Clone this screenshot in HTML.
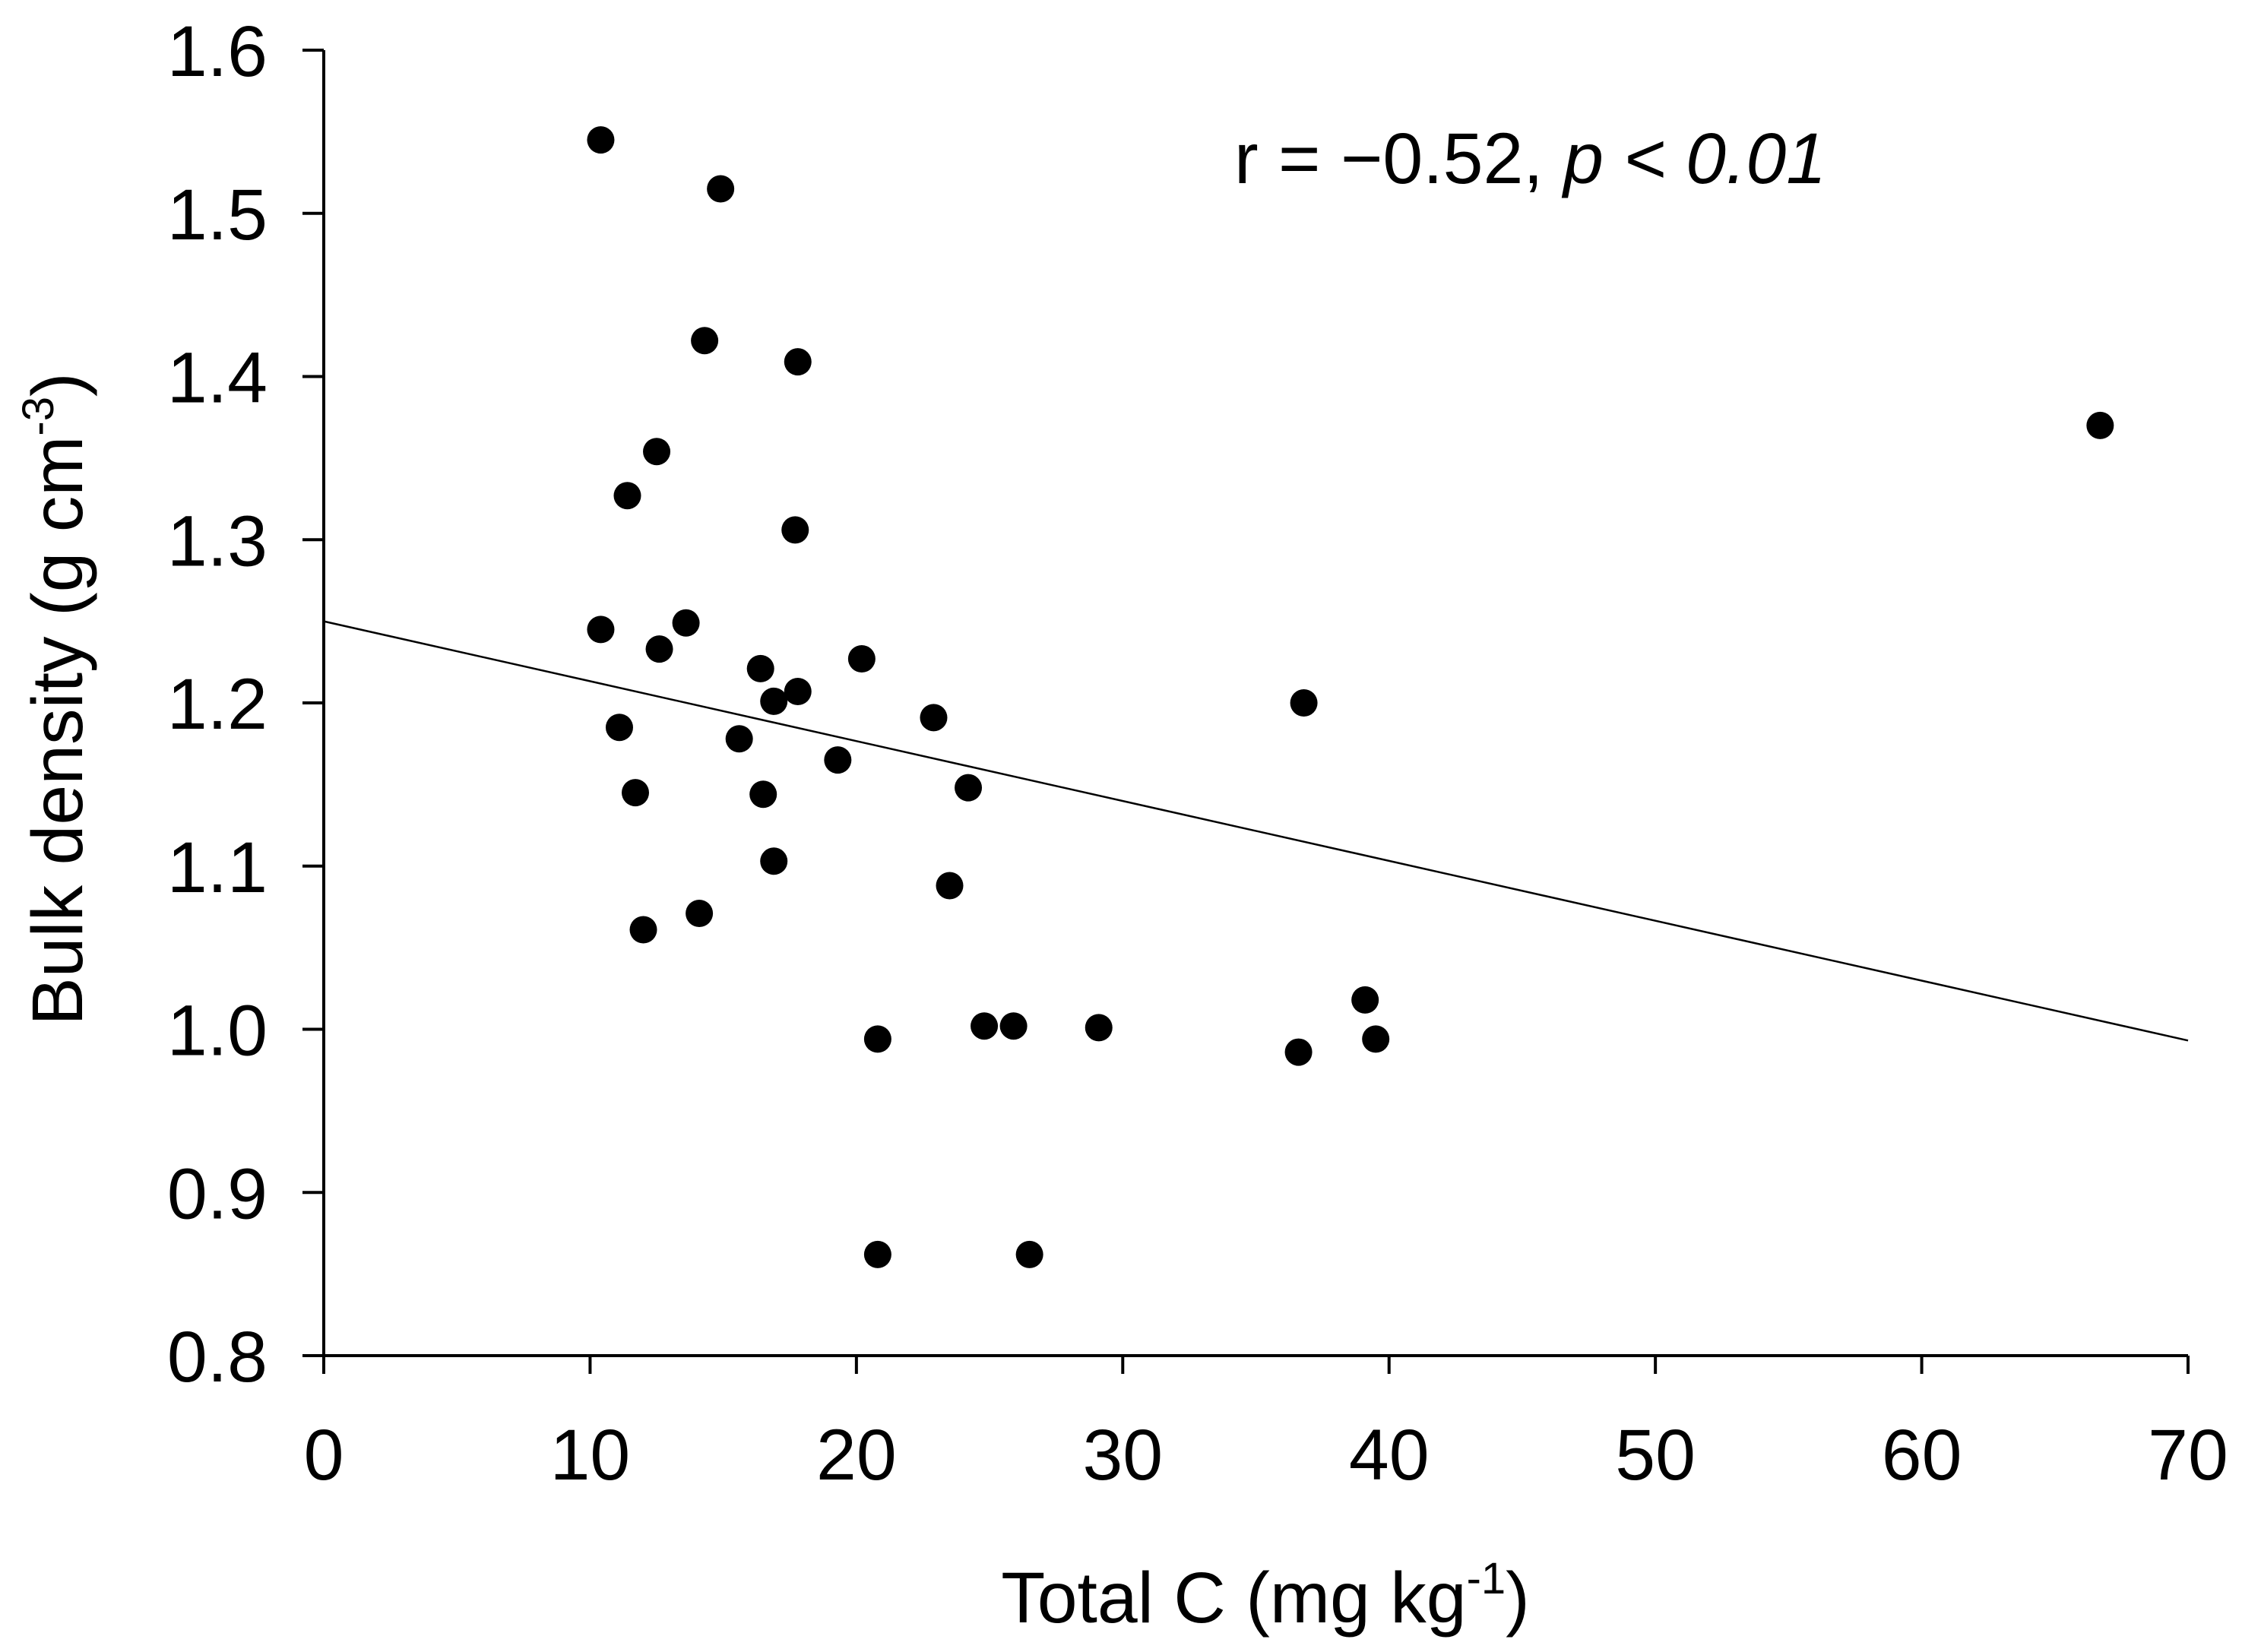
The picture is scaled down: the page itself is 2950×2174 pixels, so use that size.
<!DOCTYPE html>
<html><head><meta charset="utf-8"><style>
html,body{margin:0;padding:0;background:#fff;}
svg{display:block;}
text{font-family:"Liberation Sans",Arial,sans-serif;fill:#000;}
</style></head><body>
<svg id="chart" width="2950" height="2174" viewBox="0 0 2950 2174" xmlns="http://www.w3.org/2000/svg">
<g id="axes"></g>
<g id="marks"></g>
<text x="1665" y="2135" font-size="95" text-anchor="middle">Total C (mg kg<tspan dy="-38" font-size="58">-1</tspan><tspan dy="38">)</tspan></text>
<text transform="translate(108,920) rotate(-90)" font-size="95" text-anchor="middle">Bulk density (g cm<tspan dy="-38" font-size="58">-3</tspan><tspan dy="38">)</tspan></text>
<text x="1624" y="241" font-size="95">r = −0.52, <tspan font-style="italic">p &lt; 0.01</tspan></text>
</svg>
<script>
const xVals=[10.4,14.9,14.3,17.8,66.7,12.5,11.4,17.7,10.4,13.6,12.6,16.4,20.2,16.9,17.8,22.9,36.8,11.1,15.6,19.3,11.7,16.5,24.2,16.9,23.5,14.1,12.0,39.1,20.8,24.8,25.9,29.1,36.6,39.5,20.8,26.5];
const yVals=[1.545,1.515,1.422,1.409,1.370,1.354,1.327,1.306,1.245,1.249,1.233,1.221,1.227,1.201,1.207,1.191,1.200,1.185,1.178,1.165,1.145,1.144,1.148,1.103,1.088,1.071,1.061,1.018,0.994,1.002,1.002,1.001,0.986,0.994,0.862,0.862];
const xTicks=[0,10,20,30,40,50,60,70];
const yTicks=[0.8,0.9,1.0,1.1,1.2,1.3,1.4,1.5,1.6];
const trendIntercept=1.25;
const trendSlope=-0.00367;

const NS="http://www.w3.org/2000/svg";
const X0=426,X1=2879,Y0=1784,Y1=66;
function sx(v){return X0+(v-0)/(70-0)*(X1-X0);}
function sy(v){return Y0-(v-0.8)/(1.6-0.8)*(Y0-Y1);}
function mk(tag,attrs,parent){const e=document.createElementNS(NS,tag);for(const k in attrs)e.setAttribute(k,attrs[k]);parent.appendChild(e);return e;}
const axes=document.getElementById('axes');
const marks=document.getElementById('marks');
let el=mk('line',{x1:X0,y1:Y1,x2:X0,y2:Y0,stroke:'#000','stroke-width':4},axes);


el=mk('line',{x1:X0,y1:Y0,x2:X1,y2:Y0,stroke:'#000','stroke-width':4},axes);


yTicks.forEach(t=>{
  const y=sy(t);
  const tk=mk('line',{x1:X0-28,y1:y,x2:X0,y2:y,stroke:'#000','stroke-width':4},axes);
  
  
  const lb=mk('text',{x:352,y:y+34,'font-size':95,'text-anchor':'end'},axes);
  lb.textContent=t.toFixed(1);
  
  
});
xTicks.forEach(t=>{
  const x=sx(t);
  const tk=mk('line',{x1:x,y1:Y0,x2:x,y2:Y0+24,stroke:'#000','stroke-width':4},axes);
  
  
  const lb=mk('text',{x:x,y:1947,'font-size':95,'text-anchor':'middle'},axes);
  lb.textContent=String(t);
  
  
});
const tl=mk('line',{x1:sx(0),y1:sy(trendIntercept),x2:sx(70),y2:sy(trendIntercept+trendSlope*70),stroke:'#000','stroke-width':2.5},marks);


xVals.forEach((xv,i)=>{
  const c=mk('circle',{cx:sx(xv),cy:sy(yVals[i]),r:18,fill:'#000'},marks);
  
  
});
</script>
</body></html>
